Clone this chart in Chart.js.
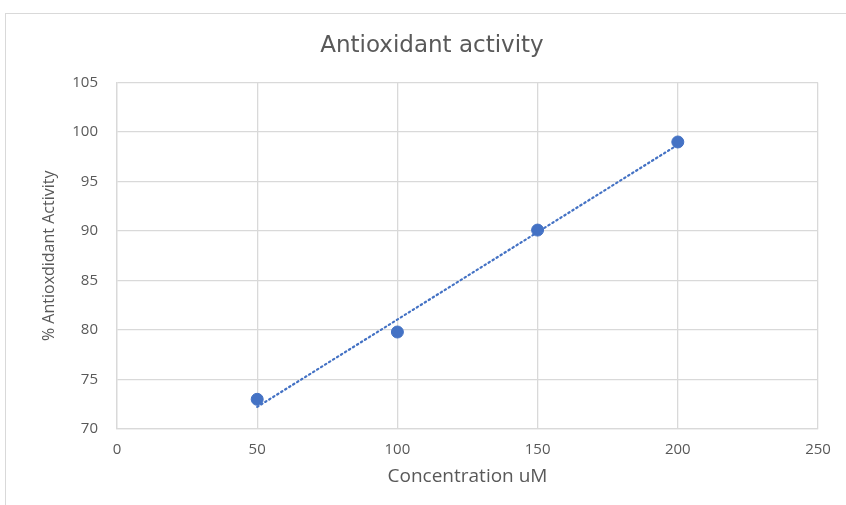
<!DOCTYPE html>
<html>
<head>
<meta charset="utf-8">
<script src="https://cdn.jsdelivr.net/npm/chart.js@4"></script>
<style>
  body { margin: 0; background: #fff; }
  #wrap { position: relative; width: 846px; height: 505px; }
  #frame { position: absolute; left: 5px; top: 13px; width: 860px; height: 520px; border: 1px solid #d9d9d9; }
  canvas { position: absolute; left: 0; top: 0; }
</style>
</head>
<body>
<div id="wrap">
  <div id="frame"></div>
  <canvas id="antioxChart" width="846" height="505"></canvas>
</div>
<script>
// Antioxidant activity vs concentration
const concentrations = [50, 100, 150, 200];
const activity = [73, 79.8, 90.1, 99];
const xTicks = [0, 50, 100, 150, 200, 250];
const yTicks = [70, 75, 80, 85, 90, 95, 100, 105];

// linear trendline (least squares) from the points
const n = concentrations.length;
const mx = concentrations.reduce((a, b) => a + b, 0) / n;
const my = activity.reduce((a, b) => a + b, 0) / n;
let sxy = 0, sxx = 0;
concentrations.forEach((x, i) => { sxy += (x - mx) * (activity[i] - my); sxx += (x - mx) * (x - mx); });
const slope = sxy / sxx;
const intercept = my - slope * mx;
const xMin = concentrations[0], xMax = concentrations[n - 1];
const trend = [{ x: xMin, y: intercept + slope * xMin }, { x: xMax, y: intercept + slope * xMax }];

const blue = '#4472c4';
const grey = '#595959';
const gridGrey = '#d9d9d9';
const font = "'Open Sans', sans-serif";

const ctx = document.getElementById('antioxChart').getContext('2d');
const chart = new Chart(ctx, {
    type: 'scatter',
    data: {
        datasets: [{
            label: 'Activity',
            data: concentrations.map((x, i) => ({ x: x, y: activity[i] })),
            backgroundColor: blue,
            borderColor: blue,
            pointRadius: 6,
            pointHoverRadius: 6
        }, {
            label: 'Linear trend',
            type: 'line',
            data: trend,
            borderColor: blue,
            borderWidth: 2.2,
            borderDash: [1.5, 3.2],
            borderCapStyle: 'round',
            pointRadius: 0,
            fill: false
        }]
    },
    options: {
        responsive: false,
        animation: false,
        // left padding keeps the title centred like the original
        layout: { padding: { left: 46, right: 28, top: 0, bottom: 0 } },
        plugins: {
            legend: { display: false },
            tooltip: { enabled: false },
            title: {
                display: true,
                text: 'Antioxidant activity',
                color: grey,
                font: { family: "'DejaVu Sans', sans-serif", size: 23, weight: 'normal' },
                padding: { top: 32, bottom: 23 }
            }
        },
        scales: {
            x: {
                type: 'linear',
                min: 0,
                max: 250,
                afterBuildTicks: (s) => { s.ticks = xTicks.map(v => ({ value: v })); },
                afterFit: (s) => { s.height = 76; },
                grid: { color: gridGrey, lineWidth: 1.3, drawTicks: false },
                border: { color: gridGrey, width: 1.3 },
                ticks: { color: grey, font: { family: font, size: 15 }, padding: 12 },
                title: {
                    display: true,
                    text: 'Concentration uM',
                    color: grey,
                    font: { family: font, size: 19 },
                    padding: { top: 0, bottom: 17 }
                }
            },
            y: {
                min: 70,
                max: 105,
                afterBuildTicks: (s) => { s.ticks = yTicks.map(v => ({ value: v })); },
                afterFit: (s) => { s.width = 71; },
                grid: { color: gridGrey, lineWidth: 1.3, drawTicks: false },
                border: { color: gridGrey, width: 1.3 },
                ticks: { color: grey, font: { family: font, size: 15 }, padding: 19 },
                title: {
                    display: true,
                    text: '% Antioxdidant Activity',
                    color: grey,
                    font: { family: font, size: 16 },
                    padding: { top: -6, bottom: 0 }
                }
            }
        }
    }
});
</script>
</body>
</html>
